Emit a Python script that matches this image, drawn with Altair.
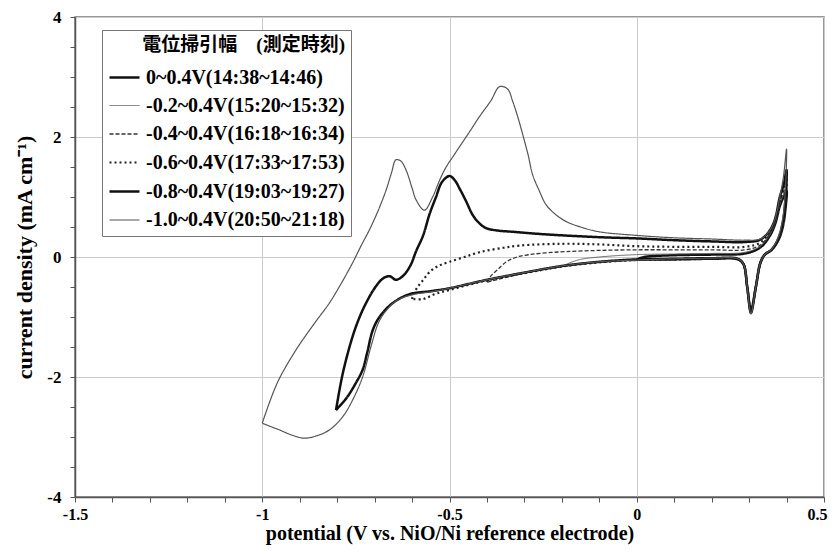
import altair as alt
import pandas as pd

series_labels = [
    "0~0.4V(14:38~14:46)",
    "-0.2~0.4V(15:20~15:32)",
    "-0.4~0.4V(16:18~16:34)",
    "-0.6~0.4V(17:33~17:53)",
    "-0.8~0.4V(19:03~19:27)",
    "-1.0~0.4V(20:50~21:18)",
]
series_colors = ["#111111", "#666666", "#333333", "#222222", "#111111", "#555555"]
series_dash = [[1, 0], [1, 0], [4, 2], [2, 3], [1, 0], [1, 0]]
series_width = [2.5, 1.0, 1.3, 2.2, 2.5, 1.2]

# series 1: 0 ~ 0.4 V
s1_x = [0.0, 0.02, 0.1, 0.2, 0.29, 0.33, 0.356, 0.37, 0.382, 0.392, 0.4,
        0.397, 0.39, 0.378, 0.36, 0.342, 0.33, 0.318, 0.305, 0.295, 0.285, 0.27, 0.2, 0.1, 0.0]
s1_y = [-0.04, 0.0, 0.03, 0.04, 0.06, 0.16, 0.36, 0.56, 0.85, 1.0, 1.1,
        0.8, 0.5, 0.28, 0.12, 0.04, -0.1, -0.5, -0.88, -0.5, -0.12, -0.04, -0.03, -0.04, -0.04]

# series 2: -0.2 ~ 0.4 V
s2_x = [-0.2, -0.18, -0.15, -0.1, 0.0, 0.1, 0.2, 0.29, 0.33, 0.356, 0.37, 0.382, 0.392, 0.4,
        0.397, 0.39, 0.378, 0.36, 0.342, 0.33, 0.318, 0.305, 0.295, 0.285, 0.27, 0.2, 0.1, 0.0, -0.1, -0.2]
s2_y = [-0.16, -0.1, -0.04, 0.0, 0.04, 0.05, 0.06, 0.08, 0.18, 0.38, 0.58, 0.88, 1.05, 1.2,
        0.85, 0.52, 0.28, 0.12, 0.04, -0.1, -0.5, -0.9, -0.5, -0.12, -0.03, -0.03, -0.04, -0.06, -0.09, -0.16]

# series 3: -0.4 ~ 0.4 V
s3_x = [-0.4, -0.39, -0.37, -0.348, -0.32, -0.286, -0.24, -0.188, -0.1, 0.0, 0.1, 0.2, 0.29,
        0.33, 0.356, 0.37, 0.382, 0.392, 0.4,
        0.397, 0.39, 0.378, 0.36, 0.342, 0.33, 0.318, 0.305, 0.295, 0.285, 0.27, 0.2, 0.1, 0.0,
        -0.1, -0.2, -0.3, -0.4]
s3_y = [-0.42, -0.32, -0.2, -0.08, 0.0, 0.04, 0.07, 0.09, 0.11, 0.12, 0.12, 0.12, 0.12,
        0.2, 0.4, 0.6, 0.9, 1.1, 1.25,
        0.88, 0.54, 0.29, 0.12, 0.04, -0.1, -0.5, -0.92, -0.5, -0.12, -0.03, -0.02, -0.03, -0.05,
        -0.08, -0.16, -0.27, -0.42]

# series 4: -0.6 ~ 0.4 V
s4_x = [-0.6, -0.595, -0.585, -0.57, -0.553, -0.53, -0.5, -0.46, -0.42, -0.37, -0.313, -0.2, -0.1,
        0.0, 0.1, 0.2, 0.29, 0.33, 0.356, 0.37, 0.382, 0.392, 0.4,
        0.397, 0.39, 0.378, 0.36, 0.342, 0.33, 0.318, 0.305, 0.295, 0.285, 0.27, 0.2, 0.1, 0.0,
        -0.1, -0.2, -0.3, -0.4, -0.5, -0.54, -0.57, -0.6]
s4_y = [-0.7, -0.6, -0.5, -0.38, -0.25, -0.15, -0.08, 0.0, 0.08, 0.14, 0.19, 0.22, 0.21,
        0.18, 0.17, 0.17, 0.17, 0.24, 0.42, 0.62, 0.95, 1.15, 1.35,
        0.92, 0.56, 0.3, 0.12, 0.04, -0.1, -0.5, -0.92, -0.5, -0.12, -0.03, -0.03, -0.04, -0.05,
        -0.09, -0.16, -0.27, -0.39, -0.55, -0.62, -0.7, -0.7]

# series 5: -0.8 ~ 0.4 V
s5_x = [-0.803, -0.785, -0.759, -0.74, -0.723, -0.7, -0.678, -0.66, -0.643, -0.625, -0.605, -0.589,
        -0.571, -0.553, -0.536, -0.52, -0.5, -0.486, -0.473, -0.455, -0.438, -0.42, -0.402, -0.37,
        -0.331, -0.25, -0.1, 0.0, 0.1, 0.2, 0.29, 0.33, 0.356, 0.37, 0.382, 0.392, 0.4,
        0.397, 0.39, 0.378, 0.36, 0.342, 0.33, 0.318, 0.305, 0.295, 0.285, 0.27, 0.2, 0.1, 0.0,
        -0.1, -0.2, -0.3, -0.4, -0.5, -0.55, -0.607, -0.652, -0.687, -0.705, -0.72, -0.732, -0.75,
        -0.775, -0.803]
s5_y = [-2.55, -1.94, -1.33, -1.0, -0.77, -0.52, -0.36, -0.32, -0.38, -0.32, -0.15, 0.1,
        0.35, 0.72, 1.0, 1.25, 1.35, 1.28, 1.14, 0.92, 0.7, 0.56, 0.48, 0.44,
        0.42, 0.38, 0.33, 0.31, 0.28, 0.26, 0.25, 0.29, 0.45, 0.65, 1.0, 1.2, 1.45,
        0.95, 0.58, 0.31, 0.12, 0.04, -0.1, -0.5, -0.93, -0.5, -0.12, -0.03, -0.02, -0.03, -0.04,
        -0.08, -0.15, -0.26, -0.38, -0.52, -0.57, -0.62, -0.77, -1.0, -1.22, -1.6, -1.88, -2.1,
        -2.35, -2.55]

# series 6: -1.0 ~ 0.4 V
s6_x = [-1.0, -0.96, -0.91, -0.86, -0.821, -0.79, -0.759, -0.735, -0.714, -0.69, -0.669, -0.655,
        -0.643, -0.63, -0.616, -0.6, -0.589, -0.567, -0.545, -0.525, -0.509, -0.49, -0.473, -0.445,
        -0.42, -0.39, -0.366, -0.345, -0.331, -0.317, -0.304, -0.29, -0.278, -0.26, -0.242, -0.215,
        -0.188, -0.15, -0.1, 0.0, 0.1, 0.2, 0.29, 0.33, 0.356, 0.37, 0.382, 0.392, 0.4,
        0.397, 0.39, 0.378, 0.36, 0.342, 0.33, 0.318, 0.305, 0.295, 0.285, 0.27, 0.2, 0.1, 0.0,
        -0.1, -0.2, -0.3, -0.4, -0.5, -0.55, -0.6, -0.64, -0.67, -0.69, -0.71, -0.732, -0.76,
        -0.785, -0.82, -0.855, -0.888, -0.92, -0.955, -0.98, -1.0]
s6_y = [-2.77, -2.1, -1.55, -1.1, -0.77, -0.45, -0.1, 0.2, 0.45, 0.78, 1.12, 1.4,
        1.62, 1.6, 1.45, 1.15, 0.95, 0.78, 1.0, 1.3, 1.5, 1.68, 1.84, 2.1,
        2.34, 2.6, 2.84, 2.8, 2.59, 2.32, 2.03, 1.7, 1.37, 1.1, 0.87, 0.7,
        0.59, 0.5, 0.42, 0.36, 0.32, 0.3, 0.28, 0.3, 0.45, 0.65, 1.0, 1.35, 1.8,
        1.15, 0.65, 0.33, 0.13, 0.04, -0.1, -0.5, -0.95, -0.5, -0.12, -0.03, -0.02, -0.03, -0.05,
        -0.08, -0.15, -0.26, -0.38, -0.52, -0.58, -0.63, -0.72, -0.9, -1.1, -1.5, -2.0, -2.4,
        -2.66, -2.88, -2.98, -3.02, -2.97, -2.88, -2.82, -2.77]

x_tick_values = [-1.5, -1.4, -1.3, -1.2, -1.1, -1.0, -0.9, -0.8, -0.7, -0.6, -0.5, -0.4, -0.3,
                 -0.2, -0.1, 0.0, 0.1, 0.2, 0.3, 0.4, 0.5]
y_tick_values = [-4, -3.5, -3, -2.5, -2, -1.5, -1, -0.5, 0, 0.5, 1, 1.5, 2, 2.5, 3, 3.5, 4]

all_x = [s1_x, s2_x, s3_x, s4_x, s5_x, s6_x]
all_y = [s1_y, s2_y, s3_y, s4_y, s5_y, s6_y]

rows = []
for label, xs, ys in zip(series_labels, all_x, all_y):
    for i, (xv, yv) in enumerate(zip(xs, ys)):
        rows.append({"series": label, "idx": i, "potential": xv, "current": yv})
df = pd.DataFrame(rows)

FONT = "Liberation Serif"
CJK_FONT = "Liberation Serif, Noto Sans CJK JP"

x_axis = alt.Axis(
    values=x_tick_values,
    labelExpr="abs(datum.value*2 - round(datum.value*2)) < 0.001 ? toString(round(datum.value*10)/10) : ''",
    grid=True,
    gridColor="#cccccc",
    gridOpacity={"condition": {"test": "abs(datum.value*2 - round(datum.value*2)) < 0.001", "value": 1}, "value": 0},
    tickSize=5,
    tickColor="#555555",
    domainColor="#555555",
    domainWidth=1.5,
    labelFont=FONT,
    labelFontSize=16,
    labelFontWeight=700,
    labelColor="#000000",
    labelPadding=4,
    labelFlush=False,
    labelOffset={"condition": {"test": "datum.value > 0.45", "value": -7}, "value": 0},
    title="potential (V vs. NiO/Ni reference electrode)",
    titleFont=FONT,
    titleFontSize=20,
    titleFontWeight=700,
    titleColor="#000000",
    titlePadding=1,
)

y_axis = alt.Axis(
    values=y_tick_values,
    labelExpr="abs(datum.value/2 - round(datum.value/2)) < 0.001 ? toString(datum.value) : ''",
    grid=True,
    gridColor="#cccccc",
    gridOpacity={"condition": {"test": "abs(datum.value/2 - round(datum.value/2)) < 0.001", "value": 1}, "value": 0},
    tickSize=5,
    tickColor="#555555",
    domainColor="#555555",
    domainWidth=1.5,
    labelFont=FONT,
    labelFontSize=17,
    labelFontWeight=700,
    labelColor="#000000",
    labelPadding=9,
    labelFlush=False,
    title="current density (mA cm⁻¹)",
    titleFont=FONT,
    titleFontSize=22,
    titleFontWeight=700,
    titleColor="#000000",
    titlePadding=10,
)

legend = alt.Legend(
    title="電位掃引幅\u3000(測定時刻)",
    orient="none",
    legendX=27,
    legendY=13,
    symbolType="stroke",
    symbolSize=900,
    labelFont=FONT,
    labelFontSize=20,
    labelFontWeight=700,
    labelColor="#000000",
    labelLimit=400,
    labelOffset=5,
    titleFont=CJK_FONT,
    titleFontSize=19,
    titleFontWeight=700,
    titleColor="#000000",
    titleAnchor="end",
    titleLimit=400,
    titlePadding=6,
    rowPadding=2,
    padding=6,
    strokeColor="#777777",
    fillColor="#ffffff",
)

chart = alt.Chart(df).mark_line(interpolate="catmull-rom").encode(
    x=alt.X("potential:Q", scale=alt.Scale(domain=[-1.5, 0.5], nice=False, zero=False), axis=x_axis),
    y=alt.Y("current:Q", scale=alt.Scale(domain=[-4, 4], nice=False, zero=False), axis=y_axis),
    order=alt.Order("idx:Q"),
    color=alt.Color("series:N", sort=series_labels,
                    scale=alt.Scale(domain=series_labels, range=series_colors), legend=legend),
    strokeDash=alt.StrokeDash("series:N", sort=series_labels,
                              scale=alt.Scale(domain=series_labels, range=series_dash), legend=legend),
    strokeWidth=alt.StrokeWidth("series:N", sort=series_labels,
                                scale=alt.Scale(type="ordinal", domain=series_labels, range=series_width),
                                legend=legend),
).properties(
    width=749,
    height=480,
    autosize=alt.AutoSizeParams(type="none"),
    padding={"left": 67, "top": 9, "right": 4, "bottom": 50},
    background="white",
).configure_view(stroke="#777777", strokeWidth=1.5)

chart.save("out.html", embed_options={"renderer": "svg", "actions": False})
